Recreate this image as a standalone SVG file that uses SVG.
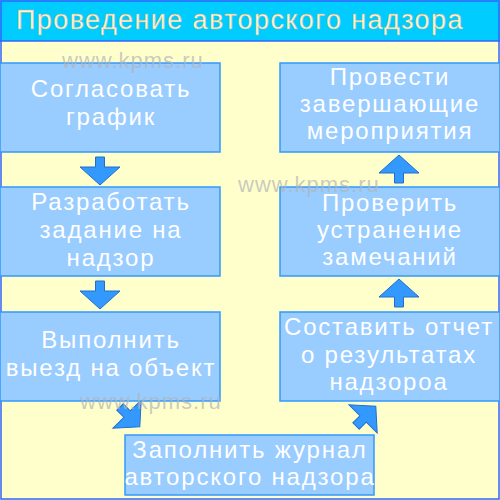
<svg xmlns="http://www.w3.org/2000/svg" width="500" height="500" viewBox="0 0 500 500">
<defs>
<style>
.box{fill:#99CCFF;stroke:#3399FF;stroke-width:1.5}
.t{font-family:"Liberation Sans",Arial,sans-serif;font-size:24px;letter-spacing:1.8px;fill:#FFFFFF;text-anchor:middle}
.arr{fill:#3399FF;stroke:#1F6FD0;stroke-width:1;stroke-linejoin:miter}
.wm{font-family:"Liberation Sans",Arial,sans-serif;font-size:22px;letter-spacing:1px;fill:#B4B4B4;fill-opacity:0.7}
</style>
<path id="down" d="M-4.5,0 H4.5 V10 H20 L0,28 L-20,10 H-4.5 Z"/>
</defs>
<rect x="0" y="0" width="500" height="500" fill="#FFFFCC"/>
<rect x="0" y="0" width="500" height="41" fill="#00CCFF"/>
<line x1="0" y1="41" x2="500" y2="41" stroke="#3366FF" stroke-width="1.5"/>
<rect x="1" y="1" width="498" height="498" fill="none" stroke="#3366FF" stroke-width="1.5"/>
<text x="16" y="29" font-family="'Liberation Sans',Arial,sans-serif" font-size="27" letter-spacing="1.4" fill="#FFF5D0" stroke="#B8B090" stroke-width="0.4">Проведение авторского надзора</text>

<g id="connectors">
<use href="#down" class="arr" x="100" y="157"/>
<use href="#down" class="arr" x="100" y="281"/>
<use href="#down" class="arr" transform="translate(399,183) rotate(180)"/>
<use href="#down" class="arr" transform="translate(399,307) rotate(180)"/>
<use href="#down" class="arr" transform="translate(120,407) rotate(-45)"/>
<use href="#down" class="arr" transform="translate(356,426) rotate(-135)"/>
</g>

<g id="n1"><rect class="box" x="0" y="63" width="220" height="89"/>
<text class="t" x="111" y="97">Согласовать</text><text class="t" x="111" y="125">график</text></g>
<g id="n2"><rect class="box" x="0" y="187" width="220" height="89"/>
<text class="t" x="111" y="210">Разработать</text><text class="t" x="111" y="238">задание на</text><text class="t" x="111" y="266">надзор</text></g>
<g id="n3"><rect class="box" x="0" y="312" width="220" height="89"/>
<text class="t" x="111" y="348">Выполнить</text><text class="t" x="111" y="376">выезд на объект</text></g>
<g id="n4"><rect class="box" x="125" y="435" width="249" height="60"/>
<text class="t" x="250" y="458">Заполнить журнал</text><text class="t" x="250" y="485">авторского надзора</text></g>
<g id="n5"><rect class="box" x="280" y="312" width="220" height="89"/>
<text class="t" x="389" y="335">Составить отчет</text><text class="t" x="389" y="363">о результатах</text><text class="t" x="389" y="390">надзороа</text></g>
<g id="n6"><rect class="box" x="280" y="187" width="220" height="89"/>
<text class="t" x="390" y="211">Проверить</text><text class="t" x="390" y="238">устранение</text><text class="t" x="390" y="265">замечаний</text></g>
<g id="n7"><rect class="box" x="280" y="63" width="220" height="89"/>
<text class="t" x="390" y="85">Провести</text><text class="t" x="390" y="112">завершающие</text><text class="t" x="390" y="139">мероприятия</text></g>

<text class="wm" x="62" y="68">www.kpms.ru</text>
<text class="wm" x="238" y="192">www.kpms.ru</text>
<text class="wm" x="80" y="409">www.kpms.ru</text>
</svg>
